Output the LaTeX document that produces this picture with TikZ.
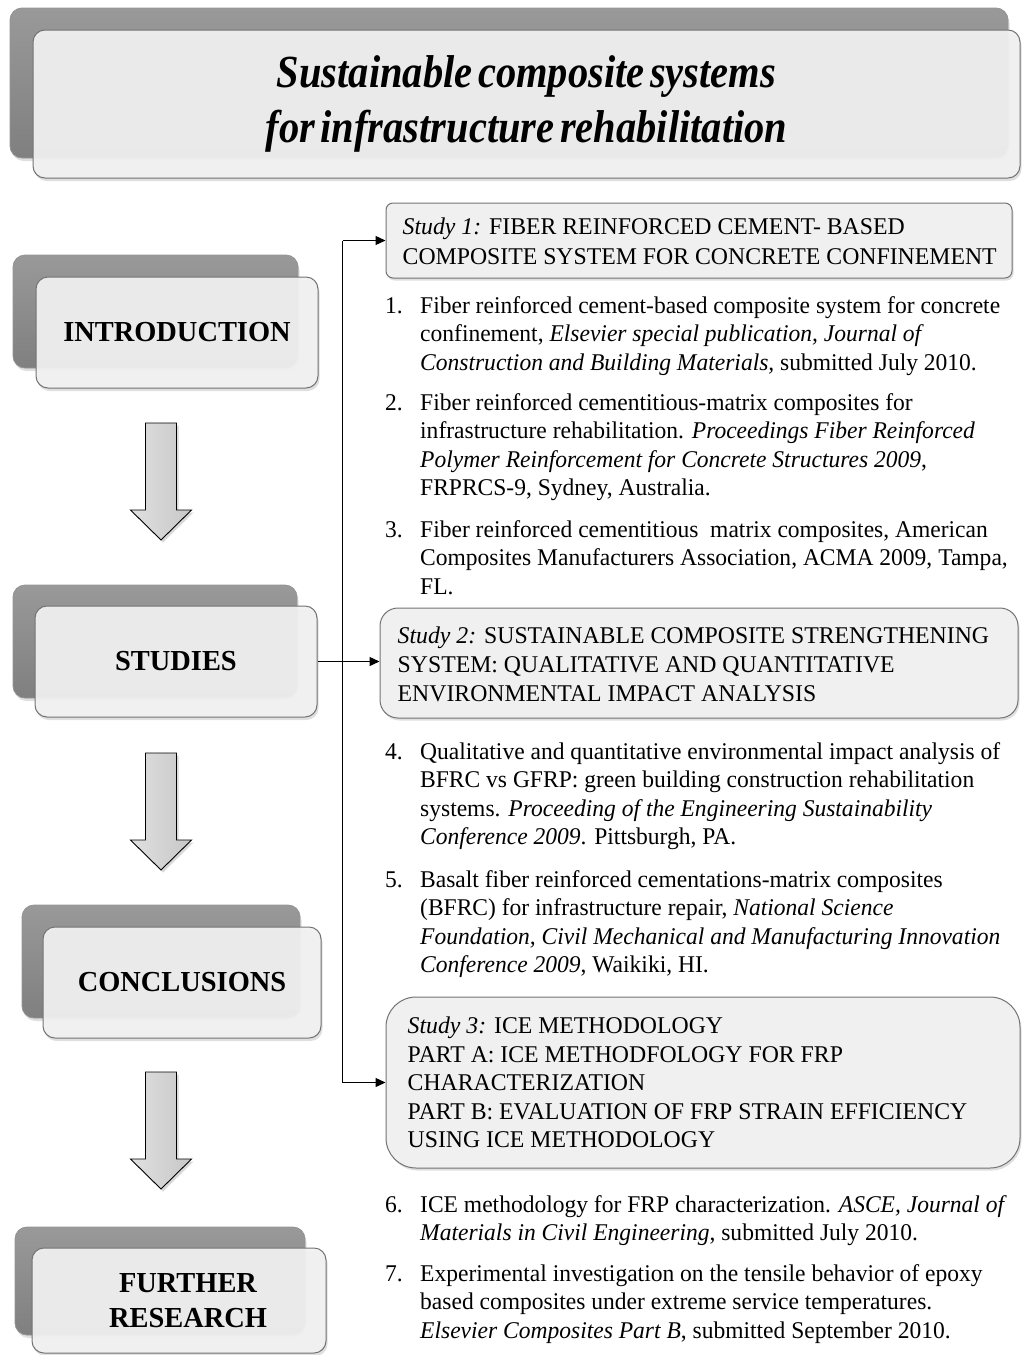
\documentclass[tikz,border=0pt]{standalone}
\usepackage{fontspec}
\setmainfont{Liberation Serif}[FakeStretch=0.98]
\newfontfamily\titlefont{Liberation Serif}[FakeStretch=0.88]
\newfontfamily\capsfont{Liberation Serif}[FakeStretch=0.99]
\usetikzlibrary{arrows.meta,shadows,calc}
\newcommand\blockarrow[1]{%
  \draw[barrow] (145.5,#1) -- (176.5,#1) -- (176.5,{#1+87}) -- (191.5,{#1+87})
    -- (161,{#1+117}) -- (130.5,{#1+87}) -- (145.5,{#1+87}) -- cycle;}
\begin{document}
\begin{tikzpicture}[x=1pt,y=-1pt,
  backbox/.style={rounded corners=12pt, draw=black!42, line width=0.8pt,
    top color=black!40, bottom color=black!50, inner sep=0pt,
    drop shadow={opacity=0.25,shadow xshift=1.5pt,shadow yshift=-3pt}},
  frontbox/.style={rounded corners=12pt, draw=black!55, line width=1pt,
    fill=black!5, fill opacity=0.93, text opacity=1, inner sep=0pt,
    drop shadow={opacity=0.25,shadow xshift=1.5pt,shadow yshift=-3pt}},
  lbl/.style={font=\bfseries\fontsize{29}{35}\selectfont, align=center},
  studybox/.style={draw=black!55, line width=1pt, fill=black!6, inner sep=0pt,
    drop shadow={opacity=0.25,shadow xshift=1.5pt,shadow yshift=-2.5pt}},
  studytext/.style={anchor=west, inner sep=0pt, align=left},
  item/.style={anchor=base west, inner sep=0pt, align=left,
    font=\fontsize{24}{28.5}\selectfont},
  conn/.style={line width=1.3pt, draw=black},
  tip/.style={-{Triangle[length=10pt,width=9pt]}},
  barrow/.style={draw=black, line width=0.9pt, left color=black!12, right color=black!22,
    drop shadow={opacity=0.3,shadow xshift=2pt,shadow yshift=-2.5pt}}
]
\useasboundingbox (0,0) rectangle (1022,1355);

% title
\node[backbox, minimum width=998pt, minimum height=150pt] (titleB) at (509,83) {};
\node[frontbox, minimum width=987pt, minimum height=148pt, align=center,
  font=\titlefont\bfseries\itshape\fontsize{46}{55}\selectfont] (title) at (526.5,104)
  {\spaceskip=0.12em\relax Sustainable composite systems\\
   \spaceskip=0.12em\relax for infrastructure rehabilitation};

% left column
\node[backbox, minimum width=285pt, minimum height=113pt] (introB) at (155.5,311.5) {};
\node[frontbox, lbl, minimum width=282pt, minimum height=111pt] (intro) at (177,332.5) {INTRODUCTION};

\node[backbox, minimum width=284pt, minimum height=113pt] (studB) at (155,641.5) {};
\node[frontbox, lbl, minimum width=282pt, minimum height=111pt] (stud) at (176,661.5) {STUDIES};

\node[backbox, minimum width=278pt, minimum height=113pt] (concB) at (161,961.5) {};
\node[frontbox, lbl, minimum width=278pt, minimum height=111pt] (conc) at (182,982.5) {CONCLUSIONS};

\node[backbox, minimum width=290pt, minimum height=108pt] (furtB) at (160,1281) {};
\node[frontbox, lbl, minimum width=294pt, minimum height=105pt] (furt) at (179,1300.5)
  {\hspace*{18pt}FURTHER\\\hspace*{18pt}RESEARCH};

\blockarrow{423}
\blockarrow{753}
\blockarrow{1072}

% study boxes
\node[studybox, rounded corners=7pt, minimum width=626pt, minimum height=75pt] (s1) at (699,240.5) {};
\node[studybox, rounded corners=18pt, minimum width=638pt, minimum height=110pt] (s2) at (699,663) {};
\node[studybox, rounded corners=30pt, minimum width=634pt, minimum height=171pt] (s3) at (703,1082.5) {};

\node[studytext, font=\capsfont\fontsize{24}{30}\selectfont] (s1t) at ($(s1.west)+(17,1)$)
  {\textit{Study 1:} FIBER REINFORCED CEMENT- BASED\\
   COMPOSITE SYSTEM FOR CONCRETE CONFINEMENT};
\node[studytext, font=\capsfont\fontsize{24}{29}\selectfont] (s2t) at ($(s2.west)+(18,1)$)
  {\textit{Study 2:} SUSTAINABLE COMPOSITE STRENGTHENING\\
   SYSTEM: QUALITATIVE AND QUANTITATIVE\\
   ENVIRONMENTAL IMPACT ANALYSIS};
\node[studytext, font=\capsfont\fontsize{24}{28.5}\selectfont] (s3t) at ($(s3.west)+(22,0)$)
  {\textit{Study 3:} ICE METHODOLOGY\\
   PART A: ICE METHODFOLOGY FOR FRP\\
   CHARACTERIZATION\\
   PART B: EVALUATION OF FRP STRAIN EFFICIENCY\\
   USING ICE METHODOLOGY};

% connectors
\coordinate (spine) at (342.5,662);
\draw[conn] (spine |- s1.west) -- (spine |- s3.west);
\draw[conn, tip] (spine |- s1.west) -- (s1.west);
\draw[conn, tip] (stud.east) -- (stud.east -| s2.west);
\draw[conn, tip] (spine |- s3.west) -- (s3.west);

% references (base anchor = last line baseline)
\node[item] (n1) at (385,313) {1.};
\node[item] (t1) at (420,370) {Fiber reinforced cement-based composite system for concrete\\
  confinement, \textit{Elsevier special publication, Journal of}\\
  \textit{Construction and Building Materials,} submitted July 2010.};
\node[item] (n2) at (385,410) {2.};
\node[item] (t2) at (420,495.5) {Fiber reinforced cementitious-matrix composites for\\
  infrastructure rehabilitation. \textit{Proceedings Fiber Reinforced}\\
  \textit{Polymer Reinforcement for Concrete Structures 2009},\\
  FRPRCS-9, Sydney, Australia.};
\node[item] (n3) at (385,537) {3.};
\node[item] (t3) at (420,594) {Fiber reinforced cementitious \ matrix composites, American\\
  Composites Manufacturers Association, ACMA 2009, Tampa,\\
  FL.};
\node[item] (n4) at (385,759) {4.};
\node[item] (t4) at (420,844.5) {Qualitative and quantitative environmental impact analysis of\\
  BFRC vs GFRP: green building construction rehabilitation\\
  systems. \textit{Proceeding of the Engineering Sustainability}\\
  \textit{Conference 2009}. Pittsburgh, PA.};
\node[item] (n5) at (385,887) {5.};
\node[item] (t5) at (420,972.5) {Basalt fiber reinforced cementations-matrix composites\\
  (BFRC) for infrastructure repair, \textit{National Science}\\
  \textit{Foundation, Civil Mechanical and Manufacturing Innovation}\\
  \textit{Conference 2009}, Waikiki, HI.};
\node[item] (n6) at (385,1212) {6.};
\node[item] (t6) at (420,1240.5) {ICE methodology for FRP characterization. \textit{ASCE, Journal of}\\
  \textit{Materials in Civil Engineering}, submitted July 2010.};
\node[item] (n7) at (385,1281) {7.};
\node[item] (t7) at (420,1338) {Experimental investigation on the tensile behavior of epoxy\\
  based composites under extreme service temperatures.\\
  \textit{Elsevier Composites Part B}, submitted September 2010.};
\end{tikzpicture}
\end{document}
